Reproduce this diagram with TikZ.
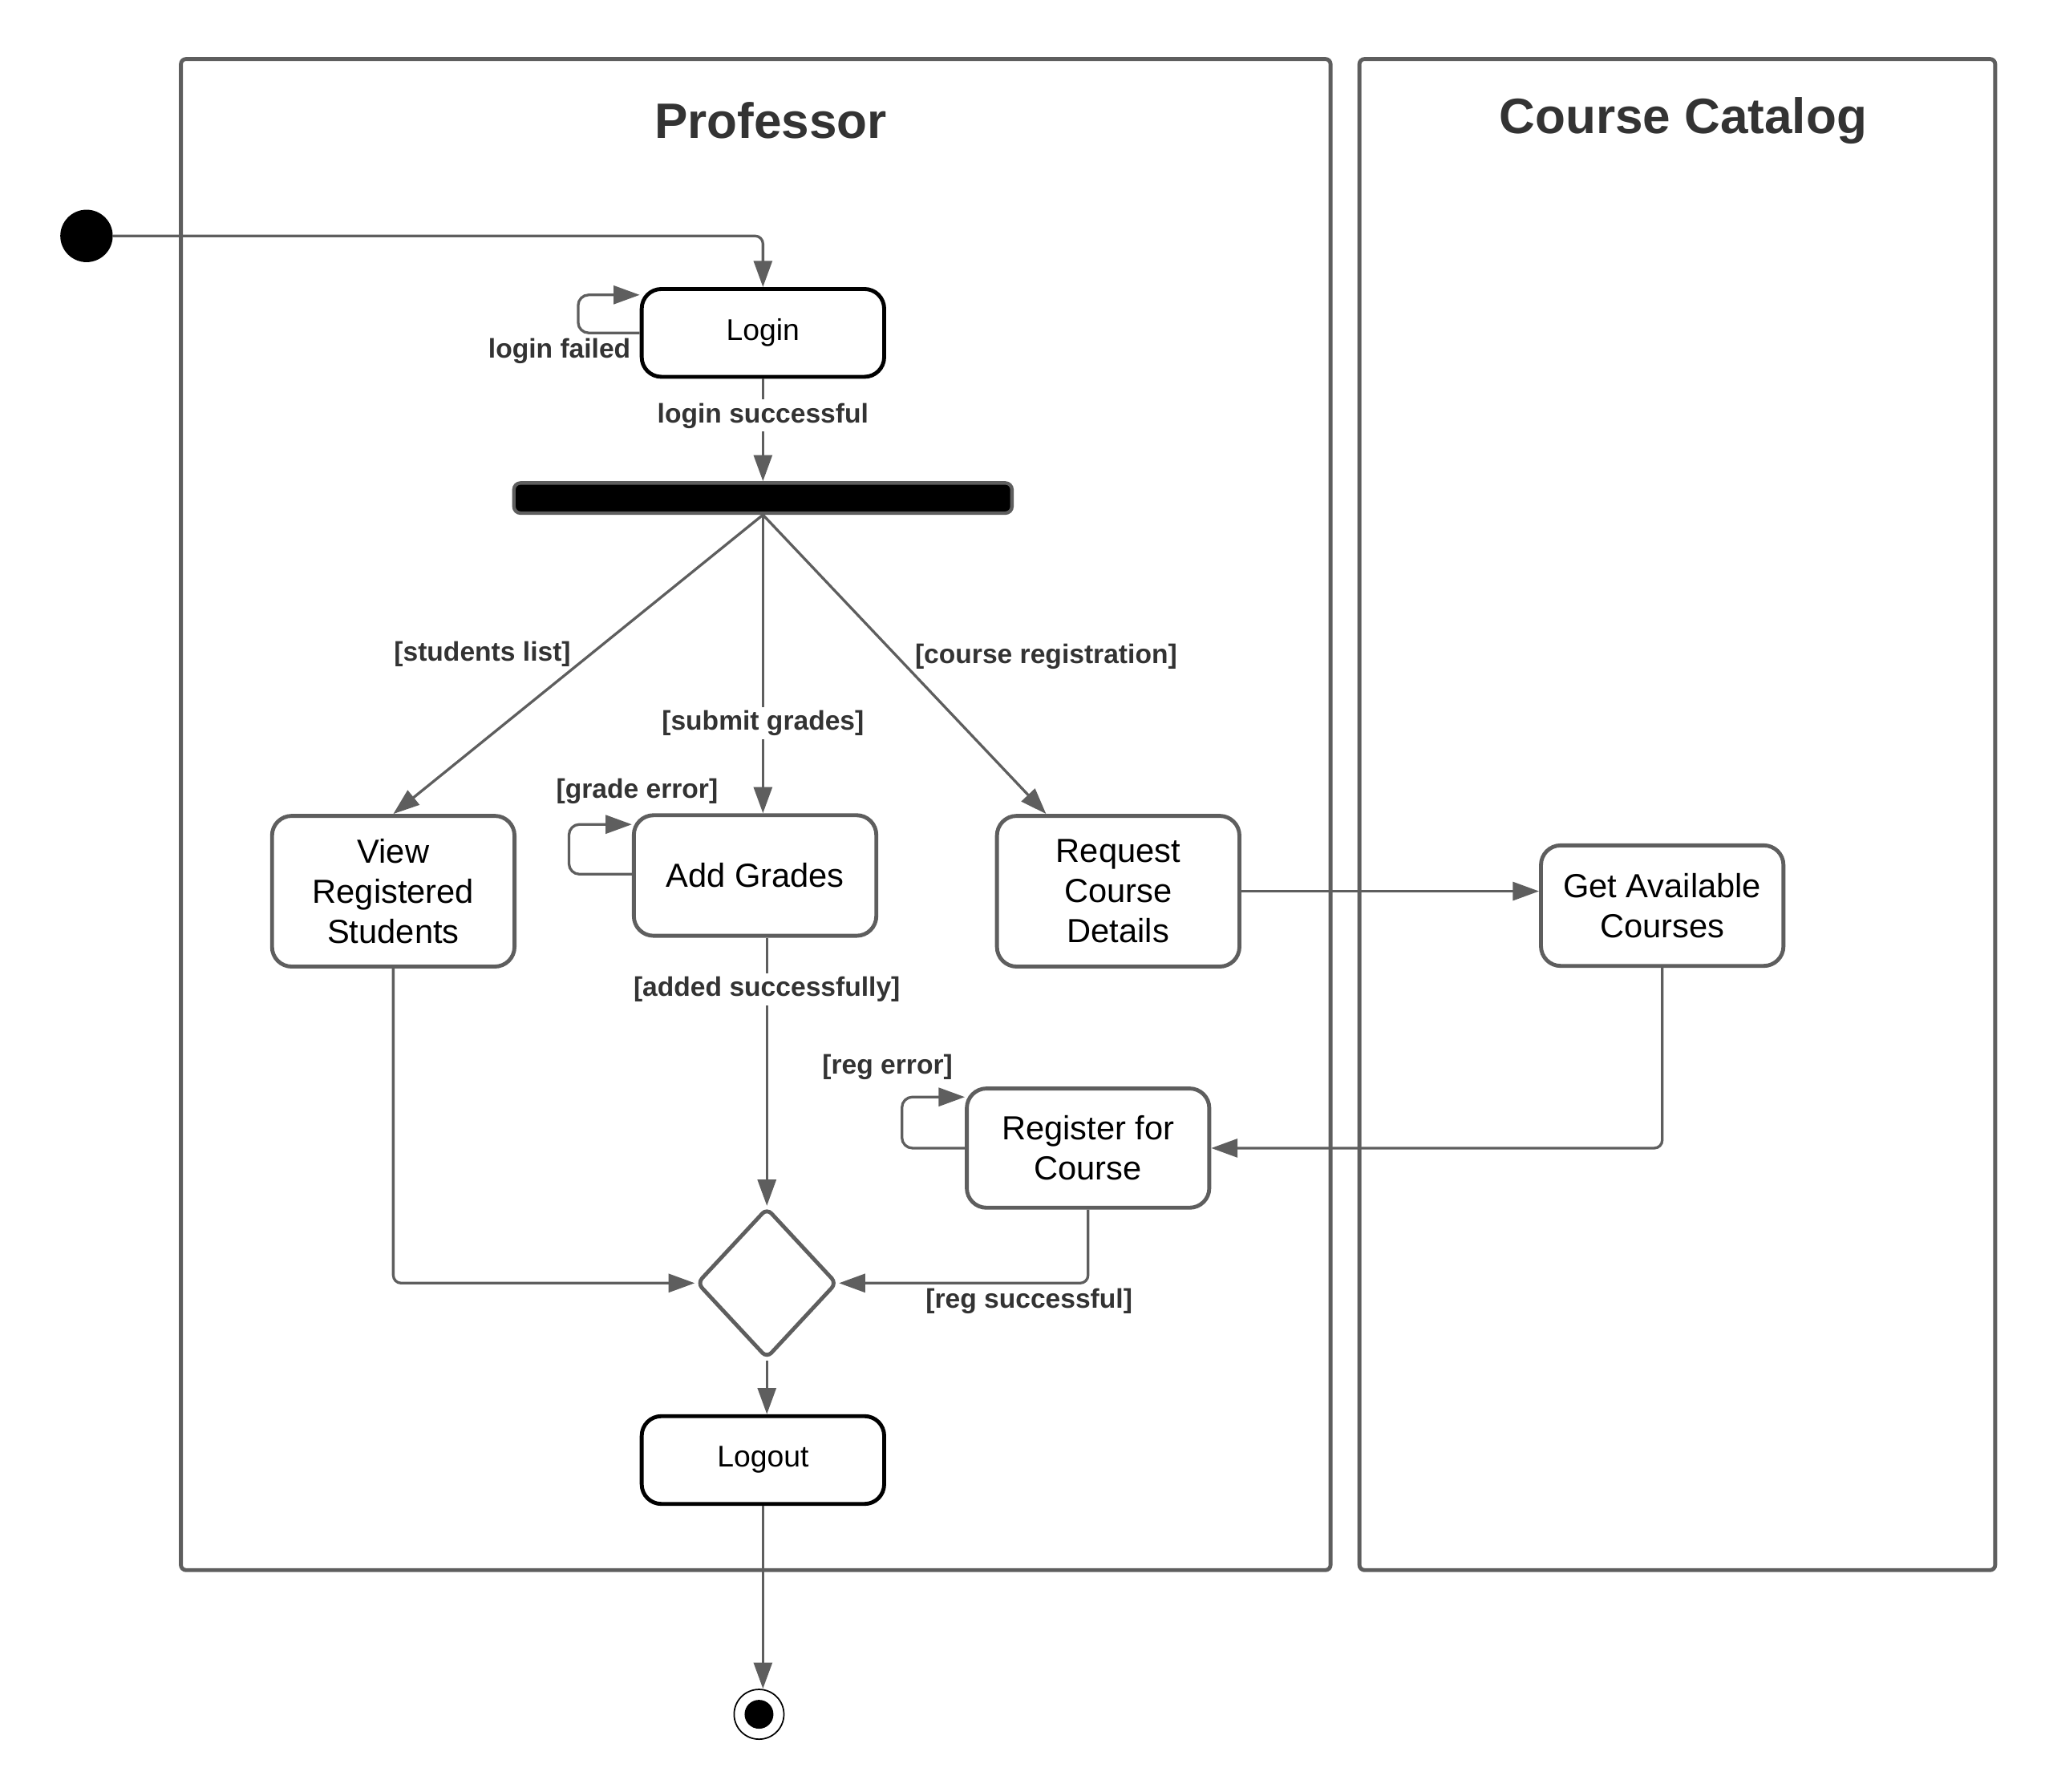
\documentclass[tikz,border=0pt]{standalone}
\usepackage{fontspec}
\setmainfont{Liberation Sans}
\usepackage{tikz}
\usetikzlibrary{shapes.geometric,arrows.meta}
\definecolor{linegray}{HTML}{5E5E5E}
\definecolor{labelgray}{HTML}{333333}

\begin{document}
\begin{tikzpicture}[x=0.02cm, y=-0.02cm,
    lane/.style={draw=linegray, line width=1.7pt, rounded corners=0.08cm},
    title/.style={font=\fontsize{21.6}{26}\selectfont\bfseries, text=labelgray},
    activity/.style={draw=linegray, line width=1.7pt, rounded corners=0.3cm, fill=white, align=center,
      minimum width=3.7cm, inner sep=0pt, font=\fontsize{14.5}{17.3}\selectfont},
    terminal/.style={draw=black, line width=1.7pt, rounded corners=0.3cm, fill=white,
      minimum width=3.7cm, minimum height=1.34cm, inner sep=0pt, font=\fontsize{13}{15.6}\selectfont},
    guard/.style={text=labelgray, font=\fontsize{11.7}{14}\selectfont\bfseries, inner sep=1.5pt},
    flow/.style={draw=linegray, line width=1.15pt, -{Triangle[length=0.4cm, width=0.28cm]}}]
             \useasboundingbox (0,0) rectangle (1560,1367);

             % swimlanes
             \draw[lane] (138,45) rectangle (1015,1198);
             \draw[lane] (1037,45) rectangle (1522,1198);
             \node[title] (proflane) at (588,92) {Professor};
             \node[title] (catlane) at (1284,92) {Course Catalog};

             % activities
             \node[circle, fill=black, minimum size=0.8cm, inner sep=0pt] (init) at (66,180) {};
             \node[terminal] (login) at (582,254) {Login};
             \node[draw=linegray, fill=black, line width=1.5pt, rounded corners=0.1cm,
               minimum width=7.6cm, minimum height=0.46cm, inner sep=0pt] (fork) at (582,380) {};
             \node[activity, minimum height=2.3cm] (view) at (300,680) {View\\Registered\\Students};
             \node[activity, minimum height=1.84cm] (grades) at (576,668) {Add Grades};
             \node[activity, minimum height=2.3cm] (request) at (853,680) {Request\\Course\\Details};
             \node[activity, minimum height=1.84cm] (getcourses) at (1268,691) {Get Available\\Courses};
             \node[activity, minimum height=1.82cm] (register) at (830,876) {Register for\\Course};
             \node[diamond, draw=linegray, line width=1.7pt, rounded corners=0.1cm, fill=white,
               minimum width=2.14cm, minimum height=2.3cm, inner sep=0pt] (merge) at (585,979) {};
             \node[terminal] (logout) at (582,1114) {Logout};
             \node[circle, draw=black, line width=0.6pt, minimum size=0.76cm, inner sep=0pt] (final) at (579,1308) {};
             \node[circle, fill=black, minimum size=0.44cm, inner sep=0pt] (finaldot) at (final) {};

             % flows
             \draw[flow, rounded corners=0.12cm] (init) -| (login);
             \draw[flow, rounded corners=0.16cm] (login.west) -| ++(-0.94cm,0.58cm) -- ([yshift=0.58cm]login.west);
             \node[guard, anchor=east] (failed) at (484,268) {login failed};
             \draw[flow] (login) -- node[guard, fill=white, pos=0.36] (success) {login successful} (fork);

             \draw[flow] (fork.south) -- (view.north);
             \draw[flow] (fork.south) -- (fork.south |- grades.north);
             \draw[flow] (fork.south) -- ([xshift=-1.1cm]request.north);
             \node[guard] (lstudents) at (368,499) {[students list]};
             \node[guard, fill=white] (lsubmit) at (582,552) {[submit grades]};
             \node[guard] (lcourse) at (798,501) {[course registration]};

             \draw[flow, rounded corners=0.16cm] ([yshift=0.02cm]grades.west) -| ++(-0.96cm,0.76cm) -- ([yshift=0.78cm]grades.west);
             \node[guard] (lgraderr) at (486,604) {[grade error]};
             \draw[flow, rounded corners=0.16cm] (register.west) -| ++(-0.96cm,0.78cm) -- ([yshift=0.78cm]register.west);
             \node[guard] (lregerr) at (677,814) {[reg error]};

             \draw[flow] (request.east) -- (request.east -| getcourses.west);
             \draw[flow, rounded corners=0.12cm] (getcourses.south) |- (register.east);

             \draw[flow] (grades.south -| merge.north) -- (merge.north);
             \node[guard, fill=white] (ladded) at (585,755) {[added successfully]};
             \draw[flow, rounded corners=0.12cm] (view.south) |- (merge.west);
             \draw[flow, rounded corners=0.12cm] (register.south) |- (merge.east);
             \node[guard] (lregok) at (785,993) {[reg successful]};

             \draw[flow] (merge.south) -- (merge.south |- logout.north);
             \draw[flow] (logout.south) -- (logout.south |- final.north);
\end{tikzpicture}
\end{document}
